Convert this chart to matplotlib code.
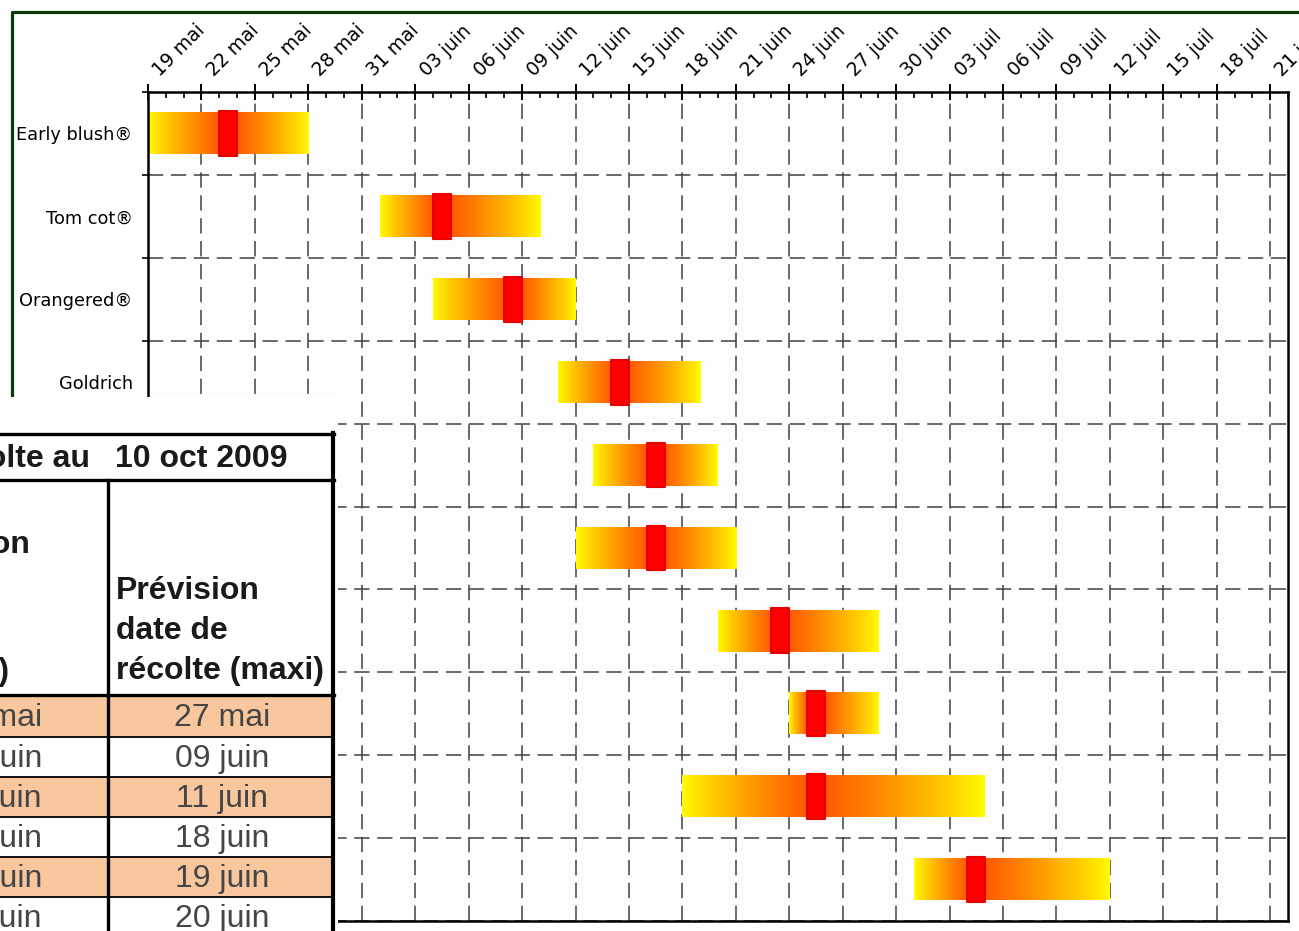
import datetime as dt
import numpy as np
import matplotlib
matplotlib.use("Agg")
import matplotlib.pyplot as plt
import matplotlib.dates as mdates
from matplotlib.colors import LinearSegmentedColormap
from matplotlib.patches import Rectangle
from matplotlib.lines import Line2D
from matplotlib.ticker import FixedLocator, FuncFormatter
import matplotlib.transforms as mtransforms

# ---------------- data ----------------
varieties = ["Early blush®", "Tom cot®", "Orangered®", "Goldrich",
             "", "", "", "", "", ""]          # rows 5-10: labels hidden behind the table
date_mini = ["2009-05-19", "2009-06-01", "2009-06-04", "2009-06-11", "2009-06-13",
             "2009-06-12", "2009-06-20", "2009-06-24", "2009-06-18", "2009-07-01"]
date_maxi = ["2009-05-27", "2009-06-09", "2009-06-11", "2009-06-18", "2009-06-19",
             "2009-06-20", "2009-06-28", "2009-06-28", "2009-07-04", "2009-07-11"]
date_prev = ["2009-05-23", "2009-06-04", "2009-06-08", "2009-06-14", "2009-06-16",
             "2009-06-16", "2009-06-23", "2009-06-25", "2009-06-25", "2009-07-04"]
axis_start = "2009-05-19"
axis_end = "2009-07-22"
tick_step_days = 3
mois = {5: "mai", 6: "juin", 7: "juil"}
table_title_left = "Prévision de récolte au"
table_title_right = "10 oct 2009"
hdr_left = ["Prévision", "(mini)"]
hdr_right = "Prévision\ndate de\nrécolte (maxi)"

def d(s):
    return dt.datetime.strptime(s, "%Y-%m-%d")

def fr(x):
    x = mdates.num2date(x)
    return f"{x.day:02d} {mois[x.month]}"

W, H = 1299, 931
fig = plt.figure(figsize=(W / 100, H / 100), dpi=100)
fig.patch.set_facecolor("white")

# dark green chart border (outer frame)
frame_col = "#0B3B0B"
fig.add_artist(Line2D([12 / W, 12 / W, 1.01], [(H - 397) / H, (H - 12) / H, (H - 12) / H],
                      transform=fig.transFigure, color=frame_col, lw=2.3, zorder=0.5))

# ---------------- main gantt axes ----------------
ax = fig.add_axes([148 / W, (H - 921) / H, (1288 - 148) / W, (921 - 92) / H])
ax.set_facecolor("#FDFDFD")
x0, x1 = mdates.date2num(d(axis_start)), mdates.date2num(d(axis_end))
n = len(varieties)
ax.set_xlim(x0, x1)
ax.set_ylim(n, 0)

cmap = LinearSegmentedColormap.from_list("yo", ["#FFFF00", "#FFB000", "#FF5A00"])
bar_h = 0.5
mk_h = 0.54
for i in range(n):
    s = mdates.date2num(d(date_mini[i]))
    e = mdates.date2num(d(date_maxi[i])) + 1
    p = mdates.date2num(d(date_prev[i]))
    xs = np.linspace(s, e, 400)
    vals = np.where(xs < p, (xs - s) / max(p - s, 1e-9),
                    np.where(xs > p + 1, (e - xs) / max(e - (p + 1), 1e-9), 1.0))
    vals = np.clip(vals, 0, 1) ** 0.8
    yc = i + 0.5
    ax.imshow(vals[np.newaxis, :], cmap=cmap, vmin=0, vmax=1, aspect="auto",
              extent=[s, e, yc + bar_h / 2, yc - bar_h / 2], interpolation="bilinear", zorder=2)
    ax.add_patch(Rectangle((p, yc - mk_h / 2), 1, mk_h, facecolor="#FF0000",
                           edgecolor="#E80000", lw=1.5, joinstyle="round", zorder=3))

# x axis on top
ax.xaxis.tick_top()
ax.xaxis.set_label_position("top")
ax.xaxis.set_major_locator(FixedLocator(np.arange(x0, x1 + 0.5, tick_step_days)))
ax.xaxis.set_minor_locator(FixedLocator(np.arange(x0, x1 + 0.5, 1)))
ax.xaxis.set_major_formatter(FuncFormatter(lambda v, pos: fr(v)))
ax.tick_params(axis="x", which="major", direction="inout", length=11, width=1.4,
               labelsize=13.5, pad=3, top=True, bottom=False)
ax.tick_params(axis="x", which="minor", direction="in", length=4, width=1.2,
               top=True, bottom=False)
for lbl in ax.get_xticklabels():
    lbl.set_rotation(45)
    lbl.set_ha("left")
    lbl.set_va("bottom")
    lbl.set_rotation_mode("anchor")

# y axis: separators at row boundaries, labels centred in rows
ax.yaxis.set_major_locator(FixedLocator(np.arange(0, n + 1)))
ax.yaxis.set_minor_locator(FixedLocator(np.arange(n) + 0.5))
ax.yaxis.set_major_formatter(FuncFormatter(lambda v, pos: ""))
ax.yaxis.set_minor_formatter(FuncFormatter(lambda v, pos: varieties[int(v)] if 0 <= int(v) < n else ""))
ax.tick_params(axis="y", which="major", direction="out", length=4, width=1.2, left=True, right=False)
ax.tick_params(axis="y", which="minor", length=0, labelsize=12.8, pad=11)

ax.grid(True, which="major", axis="both", color="#404040", lw=1.1,
        linestyle=(0, (10, 5)), zorder=1)
ax.set_axisbelow(True)
for sp in ax.spines.values():
    sp.set_linewidth(1.8)
    sp.set_color("black")

fig.canvas.draw()
off = mtransforms.ScaledTranslation(15 / 100, 0, fig.dpi_scale_trans)
for lbl in ax.get_xticklabels():
    lbl.set_transform(lbl.get_transform() + off)

# ---------------- table overlay (screenshot inset) ----------------
at = fig.add_axes([0, 0, 338 / W, (931 - 397) / H], zorder=5)
at.set_xlim(0, 338)
at.set_ylim(931, 397)
at.set_facecolor("white")
at.axis("off")
at.add_patch(Rectangle((0, 397), 338, 534, facecolor="white", edgecolor="none", zorder=0))

tfont = "Liberation Sans"
row_edges = [695, 737, 777, 817, 857, 897, 937]
nrows_vis = len(row_edges) - 1
for r in range(nrows_vis):
    if r % 2 == 0:
        at.add_patch(Rectangle((0, row_edges[r]), 333, row_edges[r + 1] - row_edges[r],
                               facecolor="#F8C79E", edgecolor="none", zorder=1))
for yv in row_edges[1:-1]:
    at.plot([0, 333], [yv, yv], color="black", lw=1.3, zorder=3)
for yv in [434, 480, 695]:
    at.plot([0, 334], [yv, yv], color="black", lw=2.4, zorder=4)
at.plot([108, 108], [480, 940], color="black", lw=2.4, zorder=4)
at.plot([333, 333], [433, 940], color="black", lw=3.0, zorder=4)

hdr_kw = dict(family=tfont, fontsize=23, fontweight="bold", color="#1A1A1A", clip_on=True, zorder=5)
at.text(90, 459, table_title_left, ha="right", va="center", **hdr_kw)
at.text(115, 459, table_title_right, ha="left", va="center", **hdr_kw)
at.text(31, 545, hdr_left[0], ha="right", va="center", **hdr_kw)
at.text(10, 672, hdr_left[1], ha="right", va="center", **hdr_kw)
at.text(116, 631, hdr_right, ha="left", va="center", linespacing=1.45, **hdr_kw)

data_kw = dict(family=tfont, fontsize=23, color="#454545", clip_on=True, zorder=5)
for r in range(nrows_vis):
    yc = (row_edges[r] + row_edges[r + 1]) / 2 + 2
    at.text(42, yc, fr(mdates.date2num(d(date_mini[r]))), ha="right", va="center", **data_kw)
    at.text(222, yc, fr(mdates.date2num(d(date_maxi[r]))), ha="center", va="center", **data_kw)

fig.savefig("out.png", dpi=100, facecolor="white")
